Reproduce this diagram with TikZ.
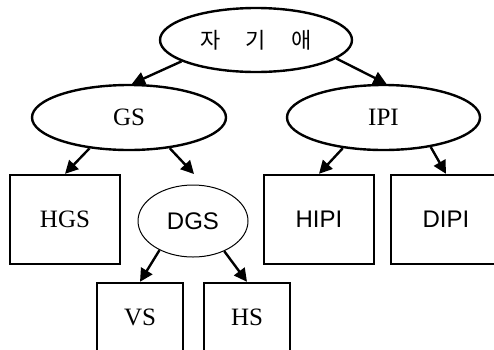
\documentclass[tikz,border=0pt]{standalone}
\usepackage{fontspec}
\setmainfont{Liberation Serif}
\setsansfont{Liberation Sans}
\newfontfamily\kr{Noto Sans CJK KR}
\usetikzlibrary{shapes.geometric, arrows.meta}

\tikzset{x=1pt, y=-1pt, node font=\fontsize{25}{27}\selectfont}
\tikzset{
  oval/.style={draw, ellipse, line width=2.4pt, inner sep=0pt},
  thinoval/.style={draw, ellipse, line width=1pt, inner sep=0pt,
    minimum width=110, minimum height=72, font=\sffamily\fontsize{24}{26}\selectfont},
  box/.style={draw, rectangle, line width=2.4pt, inner sep=0pt,
    minimum width=110, minimum height=89},
  sbox/.style={box, minimum width=86, minimum height=68},
  link/.style={line width=2.4pt, -{Triangle[length=13pt, width=13pt]}}
}

\begin{document}
\begin{tikzpicture}
    \path [use as bounding box, clip] (0,0) rectangle (494,349);
    \node [oval, minimum width=192, minimum height=64] (self) at (256,40)
      {\kr\fontsize{22}{24}\selectfont\spaceskip=25pt 자 기 애};
    \node [oval, minimum width=194, minimum height=65] (gs) at (129,117.5) {GS};
    \node [oval, minimum width=193, minimum height=65] (ipi) at (383.5,117.5) {IPI};
    \node [box] (hgs) at (65,219.5) {HGS};
    \node [thinoval] (dgs) at (193,221) {DGS};
    \node [box, font=\sffamily\fontsize{24}{26}\selectfont] (hipi) at (319,219.5) {HIPI};
    \node [box, font=\sffamily\fontsize{24}{26}\selectfont] (dipi) at (446,219.5) {DIPI};
    \node [sbox] (vs) at (140,317) {VS};
    \node [sbox] (hs) at (247,317) {HS};
    \coordinate (dgstop) at (194,174);
    \draw [link] (self.196) -- (gs.85);
    \draw [link] (self.347) -- (ipi.85);
    \draw [link] (gs.218) -- (hgs.north);
    \draw [link] (gs.323) -- (dgstop);
    \draw [link] (ipi.217) -- (hipi.north);
    \draw [link] (ipi.328) -- (dipi.north);
    \draw [link] (dgs.221) -- (vs.north);
    \draw [link] (dgs.316) -- (hs.north);
  \end{tikzpicture}
\end{document}
